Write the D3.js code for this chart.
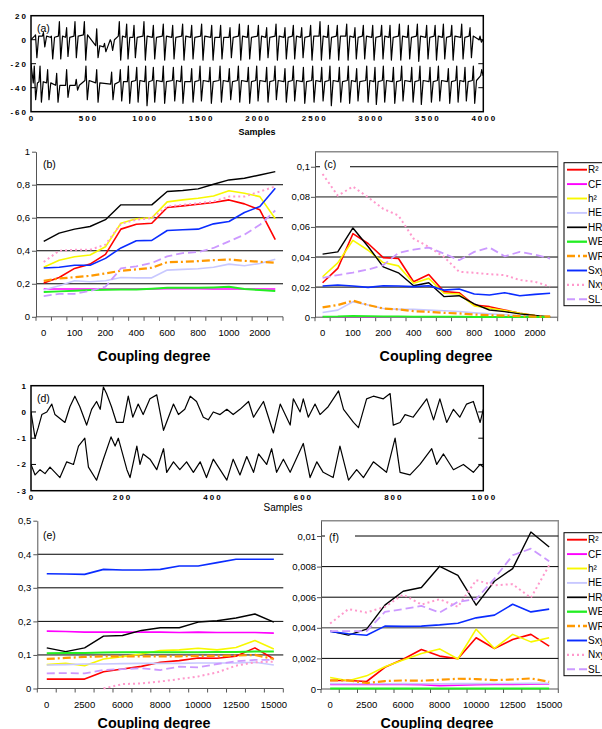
<!DOCTYPE html>
<html>
<head>
<meta charset="utf-8">
<script src="https://cdn.jsdelivr.net/npm/d3@7"></script>
<style>
  body { margin: 0; background: #fff; }
  svg text { font-family: Arial, "Liberation Sans", sans-serif; }
</style>
</head>
<body>
<svg id="fig" width="602" height="729"></svg>
<script>
// ---------------- data ----------------
var seriesNames = ["R²", "CF", "h²", "HE", "HR", "WE", "WR", "Sxy", "Nxy", "SL"];

// coupling degrees (panels b, c)
var catsBC = ["0", "50", "100", "150", "200", "300", "400", "500", "600", "700", "800", "900", "1000", "1500", "2000", "3000"];
// coupling degrees (panels e, f)
var catsEF = ["0", "1250", "2500", "4000", "6000", "7000", "8000", "9000", "10000", "11000", "12500", "14000", "15000"];

var ticksB = [0, 0.2, 0.4, 0.6, 0.8, 1];
var ticksC = [0, 0.02, 0.04, 0.06, 0.08, 0.1];
var ticksE = [0, 0.1, 0.2, 0.3, 0.4, 0.5];
var ticksF = [0, 0.002, 0.004, 0.006, 0.008, 0.01];

// panel (b)
var R2_b = [0.205, 0.238, 0.293, 0.319, 0.378, 0.531, 0.561, 0.567, 0.662, 0.672, 0.682, 0.692, 0.708, 0.684, 0.648, 0.467];
var CF_b = [0.168, 0.168, 0.168, 0.168, 0.168, 0.168, 0.168, 0.168, 0.17, 0.17, 0.17, 0.168, 0.168, 0.168, 0.168, 0.168];
var h2_b = [0.30, 0.343, 0.364, 0.374, 0.424, 0.567, 0.594, 0.60, 0.696, 0.708, 0.718, 0.732, 0.763, 0.748, 0.728, 0.594];
var HE_b = [0.162, 0.188, 0.218, 0.212, 0.218, 0.238, 0.236, 0.236, 0.283, 0.287, 0.291, 0.30, 0.319, 0.309, 0.323, 0.349];
var HR_b = [0.457, 0.507, 0.531, 0.547, 0.588, 0.678, 0.678, 0.678, 0.759, 0.765, 0.775, 0.803, 0.829, 0.839, 0.859, 0.879];
var WE_b = [0.15, 0.154, 0.158, 0.162, 0.164, 0.166, 0.166, 0.17, 0.176, 0.176, 0.176, 0.178, 0.182, 0.168, 0.162, 0.156];
var WR_b = [0.218, 0.232, 0.24, 0.248, 0.263, 0.279, 0.287, 0.297, 0.331, 0.333, 0.337, 0.343, 0.347, 0.339, 0.333, 0.327];
var Sxy_b = [0.296, 0.30, 0.312, 0.312, 0.354, 0.417, 0.461, 0.463, 0.523, 0.527, 0.531, 0.563, 0.577, 0.632, 0.668, 0.779];
var Nxy_b = [0.332, 0.40, 0.406, 0.406, 0.437, 0.563, 0.588, 0.598, 0.668, 0.678, 0.688, 0.698, 0.728, 0.728, 0.759, 0.789];
var SL_b = [0.125, 0.139, 0.139, 0.157, 0.182, 0.293, 0.306, 0.326, 0.366, 0.386, 0.392, 0.417, 0.457, 0.497, 0.557, 0.644];

// panel (c)
var R2_c = [0.0229, 0.0324, 0.0555, 0.049, 0.0396, 0.039, 0.0236, 0.0284, 0.017, 0.0163, 0.0081, 0.007, 0.0048, 0.0026, 0.0011, 0.0004];
var CF_c = [0.0002, 0.0002, 0.0003, 0.0002, 0.0002, 0.0002, 0.0002, 0.0002, 0.0002, 0.0002, 0.0002, 0.0002, 0.0002, 0.0002, 0.0002, 0.0002];
var h2_c = [0.0269, 0.0361, 0.0511, 0.0445, 0.0363, 0.0341, 0.0225, 0.0258, 0.0159, 0.0154, 0.0075, 0.0059, 0.0044, 0.0026, 0.0011, 0.0004];
var HE_c = [0.0031, 0.0047, 0.0103, 0.0081, 0.0058, 0.0052, 0.0052, 0.0047, 0.0043, 0.0038, 0.0029, 0.0022, 0.0016, 0.0011, 0.0007, 0.0004];
var HR_c = [0.0419, 0.0434, 0.0593, 0.047, 0.0335, 0.0295, 0.0209, 0.0229, 0.0137, 0.0143, 0.0088, 0.0048, 0.0037, 0.0022, 0.0011, 0.0];
var WE_c = [0.0003, 0.0004, 0.0008, 0.0006, 0.0004, 0.0004, 0.0003, 0.0003, 0.0003, 0.0003, 0.0002, 0.0002, 0.0002, 0.0002, 0.0002, 0.0002];
var WR_c = [0.0065, 0.0081, 0.011, 0.0081, 0.0058, 0.0052, 0.004, 0.0036, 0.0029, 0.0025, 0.0018, 0.0013, 0.0011, 0.0007, 0.0004, 0.0004];
var Sxy_c = [0.0207, 0.0214, 0.0207, 0.0198, 0.0209, 0.0207, 0.0203, 0.0209, 0.018, 0.0187, 0.0154, 0.0148, 0.0163, 0.0143, 0.0152, 0.0159];
var Nxy_c = [0.0952, 0.0808, 0.0868, 0.0797, 0.072, 0.0676, 0.0522, 0.0467, 0.0401, 0.0302, 0.0295, 0.0286, 0.028, 0.0247, 0.0236, 0.0203];
var SL_c = [0.0262, 0.028, 0.0297, 0.0317, 0.0346, 0.0427, 0.0449, 0.0463, 0.0423, 0.0379, 0.0434, 0.0463, 0.0405, 0.0434, 0.0416, 0.039];

// panel (e)
var R2_e = [0.028, 0.028, 0.028, 0.05, 0.058, 0.066, 0.078, 0.083, 0.091, 0.09, 0.096, 0.121, 0.088];
var CF_e = [0.171, 0.17, 0.168, 0.168, 0.168, 0.168, 0.168, 0.167, 0.168, 0.167, 0.167, 0.167, 0.165];
var h2_e = [0.071, 0.075, 0.068, 0.088, 0.095, 0.103, 0.113, 0.115, 0.12, 0.115, 0.122, 0.143, 0.118];
var HE_e = [0.07, 0.071, 0.073, 0.073, 0.074, 0.075, 0.075, 0.075, 0.076, 0.076, 0.076, 0.078, 0.07];
var HR_e = [0.121, 0.11, 0.121, 0.156, 0.158, 0.173, 0.181, 0.181, 0.198, 0.202, 0.21, 0.222, 0.198];
var WE_e = [0.105, 0.106, 0.106, 0.107, 0.108, 0.108, 0.108, 0.108, 0.108, 0.109, 0.109, 0.11, 0.11];
var WR_e = [0.088, 0.091, 0.094, 0.096, 0.096, 0.096, 0.096, 0.096, 0.097, 0.097, 0.098, 0.1, 0.088];
var Sxy_e = [0.342, 0.341, 0.340, 0.355, 0.353, 0.353, 0.355, 0.365, 0.365, 0.375, 0.385, 0.385, 0.385];
var Nxy_e = [null, null, null, 0.0, 0.013, 0.015, 0.021, 0.028, 0.036, 0.048, 0.068, 0.078, 0.08];
var SL_e = [0.045, 0.046, 0.045, 0.055, 0.058, 0.06, 0.055, 0.065, 0.063, 0.073, 0.081, 0.085, 0.085];

// panel (f)
var R2_f = [0.00056, 0.00056, 0.00049, 0.00142, 0.00194, 0.00258, 0.00215, 0.00198, 0.00335, 0.00265, 0.00323, 0.00357, 0.0028];
var CF_f = [0.0003, 0.0003, 0.0003, 0.0003, 0.0003, 0.00028, 0.00022, 0.00025, 0.00028, 0.0003, 0.0003, 0.00032, 0.00033];
var h2_f = [0.00075, 0.00054, 0.00086, 0.00146, 0.00189, 0.00232, 0.00262, 0.00196, 0.00391, 0.00265, 0.00357, 0.00308, 0.00335];
var HE_f = [0.00035, 0.00034, 0.00034, 0.00034, 0.00035, 0.00034, 0.00034, 0.00035, 0.00035, 0.00036, 0.00036, 0.00037, 0.00037];
var HR_f = [0.00378, 0.00352, 0.00391, 0.00548, 0.00639, 0.00663, 0.00802, 0.00743, 0.00548, 0.00704, 0.00787, 0.01026, 0.00928];
var WE_f = [0.00004, 0.00004, 0.00004, 0.00004, 0.00004, 0.00004, 0.00004, 0.00004, 0.00004, 0.00004, 0.00004, 0.00004, 0.00004];
var WR_f = [0.00056, 0.00056, 0.00039, 0.00052, 0.00056, 0.00054, 0.0006, 0.00067, 0.00065, 0.00058, 0.00062, 0.00069, 0.00047];
var Sxy_f = [0.00376, 0.00361, 0.00351, 0.00411, 0.00409, 0.00411, 0.00419, 0.0043, 0.00465, 0.00483, 0.00554, 0.00504, 0.00522];
var Nxy_f = [0.00428, 0.00522, 0.005, 0.00537, 0.00617, 0.00552, 0.00587, 0.00537, 0.00711, 0.00678, 0.00685, 0.00596, 0.00809];
var SL_f = [0.00378, 0.00378, 0.00378, 0.00504, 0.00522, 0.00543, 0.005, 0.0057, 0.00587, 0.00722, 0.00874, 0.00917, 0.00835];

// panel (a): signal cycles [spike sample, spike value, trough value, level between spikes]
var aTopStart = 0;
var aTop = [[40, 4, -15, 3], [110, 6, -6, 3], [180, 3, -16, 2], [251, 15, -16, 3], [315, 10, -14, 2], [389, 15, -15, 3],
  [472, 15, -17, 4], [581, 9, -15, -5], [650, -3, -10, -6], [710, -2, -9, 0], [781, 15, -17, 3], [846, 13, -16, 2],
  [911, 12, -15, 2], [999, 15, -17, 3], [1082, 12, -16, 2], [1170, 13, -17, 3], [1253, 12, -16, 2], [1341, 13, -17, 3],
  [1421, 12, -16, 2], [1509, 13, -17, 3], [1598, 12, -17, 2], [1677, 12, -16, 2], [1760, 10, -15, 2], [1843, 13, -17, 3],
  [1922, 12, -16, 2], [2011, 12, -17, 3], [2084, 10, -15, 2], [2167, 13, -17, 3], [2246, 10, -16, 2], [2320, 12, -16, 3],
  [2394, 10, -15, 2], [2473, 12, -17, 3], [2556, 15, -17, 3], [2630, 12, -16, 2], [2709, 12, -17, 3], [2792, 13, -17, 3],
  [2865, 10, -16, 2], [2939, 12, -16, 3], [3022, 12, -17, 2], [3101, 12, -16, 3], [3175, 12, -17, 2], [3258, 13, -17, 3],
  [3337, 12, -16, 2], [3417, 13, -18, 3], [3499, 12, -16, 2], [3574, 12, -17, 3], [3647, 13, -16, 2], [3721, 12, -17, 3],
  [3809, 13, -16, 2], [3883, 10, -15, 3], [3971, 3, -2, 0]];
var aBotStart = -20;
var aBot = [[29, -22, -50, -36], [80, -22, -52, -35], [147, -25, -50, -36], [227, -28, -52, -38], [315, -25, -48, -38],
  [400, -33, -42, -38], [486, -22, -50, -34], [581, -25, -52, -36], [713, -27, -50, -37], [790, -25, -51, -35],
  [861, -22, -53, -35], [935, -23, -52, -34], [1014, -22, -55, -35], [1082, -23, -52, -34], [1170, -22, -53, -35],
  [1259, -23, -51, -34], [1332, -22, -53, -35], [1421, -24, -52, -35], [1495, -22, -51, -34], [1583, -23, -53, -35],
  [1672, -22, -52, -34], [1754, -24, -50, -35], [1834, -22, -52, -34], [1922, -23, -53, -35], [1996, -22, -51, -34],
  [2084, -23, -52, -35], [2158, -22, -50, -34], [2246, -24, -52, -35], [2320, -22, -51, -34], [2409, -23, -53, -35],
  [2491, -22, -52, -34], [2571, -23, -51, -35], [2644, -22, -55, -34], [2727, -23, -52, -35], [2806, -22, -53, -34],
  [2880, -24, -51, -35], [2969, -22, -52, -34], [3042, -23, -54, -35], [3116, -22, -52, -34], [3205, -23, -53, -35],
  [3278, -22, -51, -34], [3367, -23, -52, -35], [3440, -22, -54, -34], [3529, -23, -52, -35], [3603, -22, -51, -34],
  [3691, -24, -53, -35], [3765, -22, -52, -34], [3838, -23, -51, -35], [3912, -22, -53, -34], [3986, -25, -30, -30]];

// panel (d): [sample, value] vertices
var dTop = [[0, 0], [9, -1.0], [16, -0.6], [24, -0.1], [35, 0.0], [46, 0.3], [53, -0.1], [75, -0.4], [86, 0.2], [97, 0.6],
  [108, 0.2], [123, -0.5], [134, 0.1], [145, 0.4], [153, 0.1], [160, 0.95], [167, 0.7], [178, 0.2], [189, -0.4], [204, -0.4],
  [215, 0.6], [225, -0.2], [237, 0.3], [248, -0.1], [263, 0.5], [278, 0.65], [293, -0.7], [315, 0.3], [326, -0.1], [340, 0.1],
  [352, 0.6], [366, 0.4], [381, -0.2], [392, -0.3], [403, 0.0], [418, -0.1], [433, 0.1], [447, -0.1], [462, 0.1], [481, 0.4],
  [492, -0.2], [514, 0.4], [536, -0.8], [551, 0.3], [573, -0.5], [580, 0.5], [595, 0.0], [602, 0.5], [613, -0.2], [628, 0.3],
  [639, -0.1], [657, 0.2], [680, 0.8], [691, 0.1], [713, -0.4], [724, -0.6], [742, 0.5], [757, 0.6], [779, 0.5], [794, 0.7],
  [801, -0.5], [816, -0.4], [827, -0.1], [845, -0.2], [875, 0.5], [890, -0.3], [904, 0.5], [919, -0.4], [934, 0.1], [948, -0.2],
  [963, 0.3], [978, 0.4], [993, -0.4], [1000, 0.1]];
var dBot = [[0, -2.0], [9, -2.4], [20, -2.2], [31, -2.35], [42, -2.1], [53, -2.3], [64, -2.5], [79, -1.9], [94, -2.0], [105, -1.3],
  [119, -1.0], [127, -2.1], [145, -2.6], [160, -1.8], [177, -0.95], [186, -1.3], [193, -1.0], [212, -2.2], [219, -2.5], [234, -1.3],
  [241, -2.0], [248, -1.6], [263, -1.8], [278, -2.2], [293, -1.4], [300, -2.3], [315, -1.9], [329, -2.2], [344, -1.9], [359, -2.3],
  [374, -1.9], [388, -2.5], [403, -1.8], [418, -2.2], [433, -2.6], [447, -1.8], [462, -2.4], [477, -1.7], [492, -2.3], [503, -1.6],
  [521, -2.0], [532, -1.4], [543, -2.3], [558, -1.8], [573, -2.3], [602, -1.2], [617, -2.5], [632, -1.9], [646, -2.3], [668, -2.5],
  [683, -1.3], [702, -2.6], [720, -2.2], [735, -2.5], [757, -1.9], [786, -2.3], [805, -1.0], [816, -2.3], [838, -2.4], [860, -2.0],
  [886, -1.4], [897, -2.0], [912, -1.6], [934, -2.2], [956, -2.0], [978, -2.3], [993, -2.0], [1000, -2.1]];

var aXTicks = [0, 500, 1000, 1500, 2000, 2500, 3000, 3500, 4000];
var aYTicks = [20, 0, -20, -40, -60];
var dXTicks = [0, 200, 400, 600, 800, 1000];
var dYTicks = [1, 0, -1, -2, -3];

// ---------------- styles ----------------
var seriesColors = ["#ff0000", "#ff00ff", "#f8f800", "#c8c8ff", "#000000", "#22ee22", "#ff9900", "#0a2cff", "#ff99cc", "#cc99ff"];
var seriesDash = [null, null, null, null, null, null, "8,3,2,3", null, "2,3", "8,4"];
var seriesWidth = [1.6, 1.6, 1.6, 1.6, 1.4, 2, 2.2, 1.6, 2, 1.8];

var svg = d3.select("#fig");
var fmt = d3.formatLocale({ decimal: ",", thousands: ".", grouping: [3], currency: ["", ""] }).format("~g");

function drawPanel(p) {
    var g = svg.append("g");
    var x = d3.scaleBand().domain(p.cats).range([p.left, p.right]).padding(0);
    var y = d3.scaleLinear().domain([0, p.ymax]).range([p.bottom, p.top]);
    var bw = x.bandwidth();

    if (p.frame) {
        g.append("path")
            .attr("d", "M" + p.left + "," + p.top + "H" + p.right + "V" + p.bottom)
            .attr("fill", "none").attr("stroke", "#8c8c8c").attr("stroke-width", 1.4);
    }

    g.selectAll(".grid").data(p.grid).enter().append("line")
        .attr("x1", p.left).attr("x2", p.right)
        .attr("y1", function (d) { return y(d); })
        .attr("y2", function (d) { return y(d); })
        .attr("stroke", function (d) { return p.grayGrid.indexOf(d) >= 0 ? "#7a7a7a" : "#000"; })
        .attr("stroke-width", function (d) { return p.grayGrid.indexOf(d) >= 0 ? 1.6 : 1; });

    // y axis
    g.append("g")
        .attr("transform", "translate(" + p.left + ",0)")
        .attr("font-family", "Arial, 'Liberation Sans', sans-serif")
        .call(d3.axisLeft(y).tickValues(p.ticks).tickFormat(fmt).tickSize(4).tickSizeOuter(0).tickPadding(p.pad))
        .call(function (a) {
            a.attr("font-size", 9.5);
            a.select(".domain").attr("stroke", "#555");
            a.selectAll(".tick line").attr("stroke", "#555");
            a.selectAll(".tick text").attr("fill", "#000");
        });

    // x axis: ticks on category boundaries, labels on every other category
    g.append("line").attr("x1", p.left).attr("x2", p.right)
        .attr("y1", p.bottom).attr("y2", p.bottom).attr("stroke", "#555");
    var bounds = p.cats.map(function (c) { return x(c); }).concat([p.right]);
    g.selectAll(".xt").data(bounds).enter().append("line")
        .attr("x1", function (d) { return d; }).attr("x2", function (d) { return d; })
        .attr("y1", p.bottom).attr("y2", p.bottom + 4).attr("stroke", "#555");
    g.selectAll(".xl").data(p.cats.filter(function (c, i) { return i % 2 === 0; })).enter().append("text")
        .attr("x", function (d) { return x(d) + bw / 2; })
        .attr("y", p.bottom + 19)
        .attr("text-anchor", "middle").attr("font-size", 9.5)
        .text(function (d) { return d; });

    // series
    p.series.forEach(function (vals, k) {
        var line = d3.line()
            .defined(function (d) { return d != null; })
            .x(function (d, i) { return x(p.cats[i]) + bw / 2; })
            .y(function (d) { return y(d); });
        g.append("path").datum(vals)
            .attr("d", line)
            .attr("fill", "none")
            .attr("stroke", seriesColors[k])
            .attr("stroke-width", seriesWidth[k])
            .attr("stroke-dasharray", seriesDash[k])
            .attr("stroke-linejoin", "round");
    });

    // panel label
    if (p.labelBox) {
        g.append("rect").attr("x", p.labelX - 4).attr("y", p.labelY - 11)
            .attr("width", 30).attr("height", 15).attr("fill", "#fff");
    }
    g.append("text").attr("x", p.labelX).attr("y", p.labelY)
        .attr("font-size", 10.5).text(p.label);

    g.append("text").attr("x", p.titleX).attr("y", p.titleY)
        .attr("text-anchor", "middle").attr("font-size", 14.3).attr("font-weight", "bold")
        .text("Coupling degree");

    if (p.legend) {
        var lg = g.append("g").attr("transform", "translate(564," + p.top2 + ")");
        lg.append("rect").attr("x", 0).attr("y", 0).attr("width", 60).attr("height", 143)
            .attr("fill", "#fff").attr("stroke", "#000").attr("stroke-width", 1);
        var items = lg.selectAll(".li").data(seriesNames).enter().append("g")
            .attr("transform", function (d, i) { return "translate(0," + (7 + i * 14.4) + ")"; });
        items.append("line").attr("x1", 3).attr("x2", 23).attr("y1", 0).attr("y2", 0)
            .attr("stroke", function (d, i) { return seriesColors[i]; })
            .attr("stroke-width", function (d, i) { return seriesWidth[i] + 0.3; })
            .attr("stroke-dasharray", function (d, i) { return seriesDash[i]; });
        items.append("text").attr("x", 24).attr("y", 3.5).attr("font-size", 10)
            .text(function (d) { return d; });
    }
}

// each cycle: level before the spike, spike, trough, back to the level
function cyclePoints(start, cycles) {
    var pts = [[0, start]];
    cycles.forEach(function (c) {
        pts.push([c[0] - 9, c[3]]);
        pts.push([c[0], c[1]]);
        pts.push([c[0] + 12, c[2]]);
        pts.push([c[0] + 28, c[3]]);
    });
    return pts;
}

function drawSignal(s) {
    var g = svg.append("g");
    var x = d3.scaleLinear().domain([0, s.n]).range([s.left, s.right]);
    var y = d3.scaleLinear().domain(s.ydom).range([s.bottom, s.top]);
    var cid = "clip" + s.label.replace(/\W/g, "");
    svg.append("clipPath").attr("id", cid).append("rect")
        .attr("x", s.left).attr("y", s.top).attr("width", s.right - s.left).attr("height", s.bottom - s.top);

    var line = d3.line().x(function (d) { return x(d[0]); }).y(function (d) { return y(d[1]); });
    s.traces.forEach(function (t) {
        g.append("path").datum(t).attr("d", line).attr("clip-path", "url(#" + cid + ")")
            .attr("fill", "none").attr("stroke", "#000").attr("stroke-width", 1.2)
            .attr("stroke-linejoin", "round");
    });

    g.append("rect").attr("x", s.left).attr("y", s.top)
        .attr("width", s.right - s.left).attr("height", s.bottom - s.top)
        .attr("fill", "none").attr("stroke", "#000").attr("stroke-width", 1.5);

    // inward y ticks both sides
    var inner = s.yticks.slice(1, s.yticks.length - 1);
    g.selectAll(".yl").data(inner).enter().append("line")
        .attr("x1", s.left).attr("x2", s.left + 5)
        .attr("y1", function (d) { return y(d); }).attr("y2", function (d) { return y(d); })
        .attr("stroke", "#000");
    g.selectAll(".yr").data(inner).enter().append("line")
        .attr("x1", s.right - 5).attr("x2", s.right)
        .attr("y1", function (d) { return y(d); }).attr("y2", function (d) { return y(d); })
        .attr("stroke", "#000");

    g.selectAll(".ylab").data(s.yticks).enter().append("text")
        .attr("x", s.left - 3).attr("y", function (d) { return y(d) + 3; })
        .attr("text-anchor", "end").attr("font-size", 8).attr("font-weight", "bold")
        .attr("letter-spacing", 2)
        .text(function (d) { return d; });
    g.selectAll(".xlab").data(s.xticks).enter().append("text")
        .attr("x", function (d) { return x(d) + 1; }).attr("y", s.bottom + 9)
        .attr("text-anchor", "middle").attr("font-size", 8).attr("font-weight", "bold")
        .attr("letter-spacing", 2)
        .text(function (d) { return d; });

    g.append("text").attr("x", s.titleX).attr("y", s.titleY).attr("text-anchor", "middle")
        .attr("font-size", s.titleSize).attr("font-weight", s.titleWeight).text("Samples");
    g.append("text").attr("x", s.left + 6).attr("y", s.top + 16).attr("font-size", 10.5).text(s.label);
}

drawSignal({
    n: 4000, left: 31, right: 483.3, top: 15.7, bottom: 111.7, ydom: [-60, 20],
    traces: [cyclePoints(aTopStart, aTop), cyclePoints(aBotStart, aBot)],
    xticks: aXTicks, yticks: aYTicks, label: "(a)",
    titleX: 257, titleY: 135, titleSize: 9, titleWeight: "bold"
});

drawSignal({
    n: 1000, left: 31, right: 483.3, top: 385.7, bottom: 490.7, ydom: [-3, 1],
    traces: [dTop, dBot],
    xticks: dXTicks, yticks: dYTicks, label: "(d)",
    titleX: 283, titleY: 511, titleSize: 10, titleWeight: "normal"
});

drawPanel({
    cats: catsBC, left: 36, right: 283, top: 151.7, bottom: 316.8, ymax: 1,
    ticks: ticksB, grid: [0.2, 0.4, 0.6, 0.8], grayGrid: [], pad: 2, frame: false,
    series: [R2_b, CF_b, h2_b, HE_b, HR_b, WE_b, WR_b, Sxy_b, Nxy_b, SL_b],
    label: "(b)", labelX: 43, labelY: 168, labelBox: false,
    titleX: 154, titleY: 361, legend: false
});

drawPanel({
    cats: catsBC, left: 315, right: 557.7, top: 151.7, bottom: 317.2, ymax: 0.11,
    ticks: ticksC, grid: [0.02, 0.04, 0.06, 0.08, 0.1], grayGrid: [0.08], pad: 1, frame: true,
    series: [R2_c, CF_c, h2_c, HE_c, HR_c, WE_c, WR_c, Sxy_c, Nxy_c, SL_c],
    label: "(c)", labelX: 324, labelY: 168, labelBox: true,
    titleX: 436, titleY: 361, legend: true, top2: 162.7
});

drawPanel({
    cats: catsEF, left: 37.3, right: 283.3, top: 520.7, bottom: 688.5, ymax: 0.5,
    ticks: ticksE, grid: [0.1, 0.2, 0.3, 0.4], grayGrid: [], pad: 2, frame: false,
    series: [R2_e, CF_e, h2_e, HE_e, HR_e, WE_e, WR_e, Sxy_e, Nxy_e, SL_e],
    label: "(e)", labelX: 43, labelY: 539, labelBox: false,
    titleX: 154, titleY: 728, legend: false
});

drawPanel({
    cats: catsEF, left: 321, right: 558.3, top: 520.7, bottom: 689, ymax: 0.011,
    ticks: ticksF, grid: [0.002, 0.004, 0.006, 0.008, 0.01], grayGrid: [0.004], pad: 1, frame: true,
    series: [R2_f, CF_f, h2_f, HE_f, HR_f, WE_f, WR_f, Sxy_f, Nxy_f, SL_f],
    label: "(f)", labelX: 329, labelY: 541, labelBox: true,
    titleX: 437, titleY: 728, legend: true, top2: 532.7
});
</script>
</body>
</html>
